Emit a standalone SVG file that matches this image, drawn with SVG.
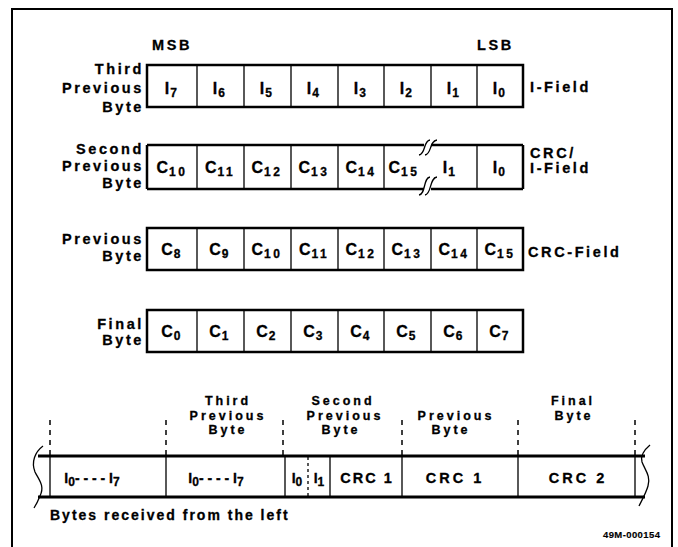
<svg xmlns="http://www.w3.org/2000/svg" width="678" height="547" viewBox="0 0 678 547">
<style>
.t{font-family:"Liberation Sans",Arial,sans-serif;font-weight:bold;font-size:14.5px;letter-spacing:2.6px;fill:#000;stroke:#000;stroke-width:0.3}
.h{font-family:"Liberation Sans",Arial,sans-serif;font-weight:bold;font-size:12.5px;letter-spacing:3px;fill:#000;stroke:#000;stroke-width:0.3;text-anchor:middle}
.c{font-family:"Liberation Sans",Arial,sans-serif;font-weight:bold;font-size:16px;letter-spacing:1px;fill:#000;stroke:#000;stroke-width:0.3;text-anchor:middle}
.s{font-size:12px;letter-spacing:2.5px}
.r{text-anchor:end}
.m{text-anchor:middle}
.box{fill:#fff;stroke:#000;stroke-width:2.5}
.div{stroke:#000;stroke-width:1.3;fill:none}
.thick{stroke:#000;stroke-width:3;fill:none}
.dash{stroke:#000;stroke-width:1.5;stroke-dasharray:5 5;fill:none}
.dot{stroke:#000;stroke-width:1.3;stroke-dasharray:3 3;fill:none}
</style>
<rect x="12" y="9" width="660" height="550" fill="none" stroke="#000" stroke-width="2"/>

<g id="third-previous-byte">
<text class="t" x="152" y="50">MSB</text>
<text class="t" x="477" y="50">LSB</text>
<text class="t r" x="144" y="74">Third</text>
<text class="t r" x="144" y="93">Previous</text>
<text class="t r" x="144" y="112">Byte</text>
<rect class="box" x="147" y="65" width="376" height="42"/>
<path class="div" d="M197 65V107M244 65V107M291 65V107M338 65V107M384 65V107M431 65V107M477 65V107"/>
<text class="c" x="172" y="94">I<tspan class="s" dy="3">7</tspan></text>
<text class="c" x="220" y="94">I<tspan class="s" dy="3">6</tspan></text>
<text class="c" x="267" y="94">I<tspan class="s" dy="3">5</tspan></text>
<text class="c" x="314" y="94">I<tspan class="s" dy="3">4</tspan></text>
<text class="c" x="361" y="94">I<tspan class="s" dy="3">3</tspan></text>
<text class="c" x="407" y="94">I<tspan class="s" dy="3">2</tspan></text>
<text class="c" x="454" y="94">I<tspan class="s" dy="3">1</tspan></text>
<text class="c" x="500" y="94">I<tspan class="s" dy="3">0</tspan></text>
<text class="t" x="530" y="92">I-Field</text>
</g>

<g id="second-previous-byte">
<text class="t r" x="144" y="154">Second</text>
<text class="t r" x="144" y="171">Previous</text>
<text class="t r" x="144" y="188">Byte</text>
<rect x="147" y="145" width="376" height="44" fill="#fff"/>
<path class="thick" d="M147 145H424M431 145H523M147 189H424M431 189H523M147 145V189M523 145V189" style="stroke-width:2.5"/>
<path class="div" d="M419 155C426 154 423 141 430 140M425 155C432 154 429 141 437 140M419 195C426 194 423 178 430 177M425 195C432 194 429 178 437 177"/>
<path class="div" d="M197 145V189M244 145V189M291 145V189M338 145V189M384 145V189M477 145V189"/>
<text class="c" x="172" y="173">C<tspan class="s" dy="3">10</tspan></text>
<text class="c" x="220" y="173">C<tspan class="s" dy="3">11</tspan></text>
<text class="c" x="267" y="173">C<tspan class="s" dy="3">12</tspan></text>
<text class="c" x="314" y="173">C<tspan class="s" dy="3">13</tspan></text>
<text class="c" x="361" y="173">C<tspan class="s" dy="3">14</tspan></text>
<text class="c" x="404" y="173">C<tspan class="s" dy="3">15</tspan></text>
<text class="c" x="450" y="173">I<tspan class="s" dy="3">1</tspan></text>
<text class="c" x="500" y="173">I<tspan class="s" dy="3">0</tspan></text>
<text class="t" x="530" y="158">CRC/</text>
<text class="t" x="530" y="173">I-Field</text>
</g>

<g id="previous-byte">
<text class="t r" x="144" y="244">Previous</text>
<text class="t r" x="144" y="261">Byte</text>
<rect class="box" x="147" y="228" width="376" height="42"/>
<path class="div" d="M197 228V270M244 228V270M291 228V270M338 228V270M384 228V270M431 228V270M477 228V270"/>
<text class="c" x="172" y="255">C<tspan class="s" dy="3">8</tspan></text>
<text class="c" x="220" y="255">C<tspan class="s" dy="3">9</tspan></text>
<text class="c" x="267" y="255">C<tspan class="s" dy="3">10</tspan></text>
<text class="c" x="314" y="255">C<tspan class="s" dy="3">11</tspan></text>
<text class="c" x="361" y="255">C<tspan class="s" dy="3">12</tspan></text>
<text class="c" x="407" y="255">C<tspan class="s" dy="3">13</tspan></text>
<text class="c" x="454" y="255">C<tspan class="s" dy="3">14</tspan></text>
<text class="c" x="500" y="255">C<tspan class="s" dy="3">15</tspan></text>
<text class="t" x="528" y="257">CRC-Field</text>
</g>

<g id="final-byte">
<text class="t r" x="144" y="329">Final</text>
<text class="t r" x="144" y="345">Byte</text>
<rect class="box" x="147" y="310" width="376" height="42"/>
<path class="div" d="M197 310V352M244 310V352M291 310V352M338 310V352M384 310V352M431 310V352M477 310V352"/>
<text class="c" x="172" y="337">C<tspan class="s" dy="3">0</tspan></text>
<text class="c" x="220" y="337">C<tspan class="s" dy="3">1</tspan></text>
<text class="c" x="267" y="337">C<tspan class="s" dy="3">2</tspan></text>
<text class="c" x="314" y="337">C<tspan class="s" dy="3">3</tspan></text>
<text class="c" x="361" y="337">C<tspan class="s" dy="3">4</tspan></text>
<text class="c" x="407" y="337">C<tspan class="s" dy="3">5</tspan></text>
<text class="c" x="454" y="337">C<tspan class="s" dy="3">6</tspan></text>
<text class="c" x="500" y="337">C<tspan class="s" dy="3">7</tspan></text>
</g>

<g id="connectors">
<path class="dash" d="M50 420V455M166 420V455M283 420V455M402 420V455M518 420V455M635 420V455"/>
</g>

<g id="byte-stream">
<text class="h" x="228" y="405">Third</text>
<text class="h" x="228" y="419.5">Previous</text>
<text class="h" x="228" y="434">Byte</text>
<text class="h" x="343" y="405">Second</text>
<text class="h" x="345" y="419.5">Previous</text>
<text class="h" x="341" y="434">Byte</text>
<text class="h" x="456" y="419.5">Previous</text>
<text class="h" x="451" y="434">Byte</text>
<text class="h" x="573" y="405">Final</text>
<text class="h" x="574" y="419.5">Byte</text>
<path class="thick" d="M38 456H645M38 497H645"/>
<path class="div" d="M50 456V497M166 456V497M285 456V497M330 456V497M402 456V497M518 456V497M635 456V497"/>
<path class="dot" d="M308 457V497"/>
<path class="div" d="M43 446C35 452 31 462 35 472C39 480 45 486 40 496C38 501 36 505 34 508"/>
<path class="div" d="M650 445C644 450 640 455 642 462C645 470 651 476 648 486C646 493 642 500 639 506"/>
<text class="c" x="92" y="483" style="font-size:14px;letter-spacing:0">I<tspan class="s" dy="3" style="letter-spacing:0">0</tspan><tspan dy="-3">- - - - I</tspan><tspan class="s" dy="3" style="letter-spacing:0">7</tspan></text>
<text class="c" x="216" y="483" style="font-size:14px;letter-spacing:0">I<tspan class="s" dy="3" style="letter-spacing:0">0</tspan><tspan dy="-3">- - - - I</tspan><tspan class="s" dy="3" style="letter-spacing:0">7</tspan></text>
<text class="c" x="297" y="483" style="font-size:14px;letter-spacing:0">I<tspan class="s" dy="3" style="letter-spacing:0">0</tspan></text>
<text class="c" x="319" y="483" style="font-size:14px;letter-spacing:0">I<tspan class="s" dy="3" style="letter-spacing:0">1</tspan></text>
<text class="t m" x="367" y="483" style="letter-spacing:2px">CRC 1</text>
<text class="t m" x="455" y="483" style="letter-spacing:3px">CRC 1</text>
<text class="t m" x="578" y="483" style="letter-spacing:3px">CRC 2</text>
<text class="t" x="50" y="520" style="font-size:14px;letter-spacing:2px">Bytes received from the left</text>
<text class="t" x="603" y="538" style="font-size:9.5px;letter-spacing:0.4px;stroke-width:0.15">49M-000154</text>
</g>
</svg>
